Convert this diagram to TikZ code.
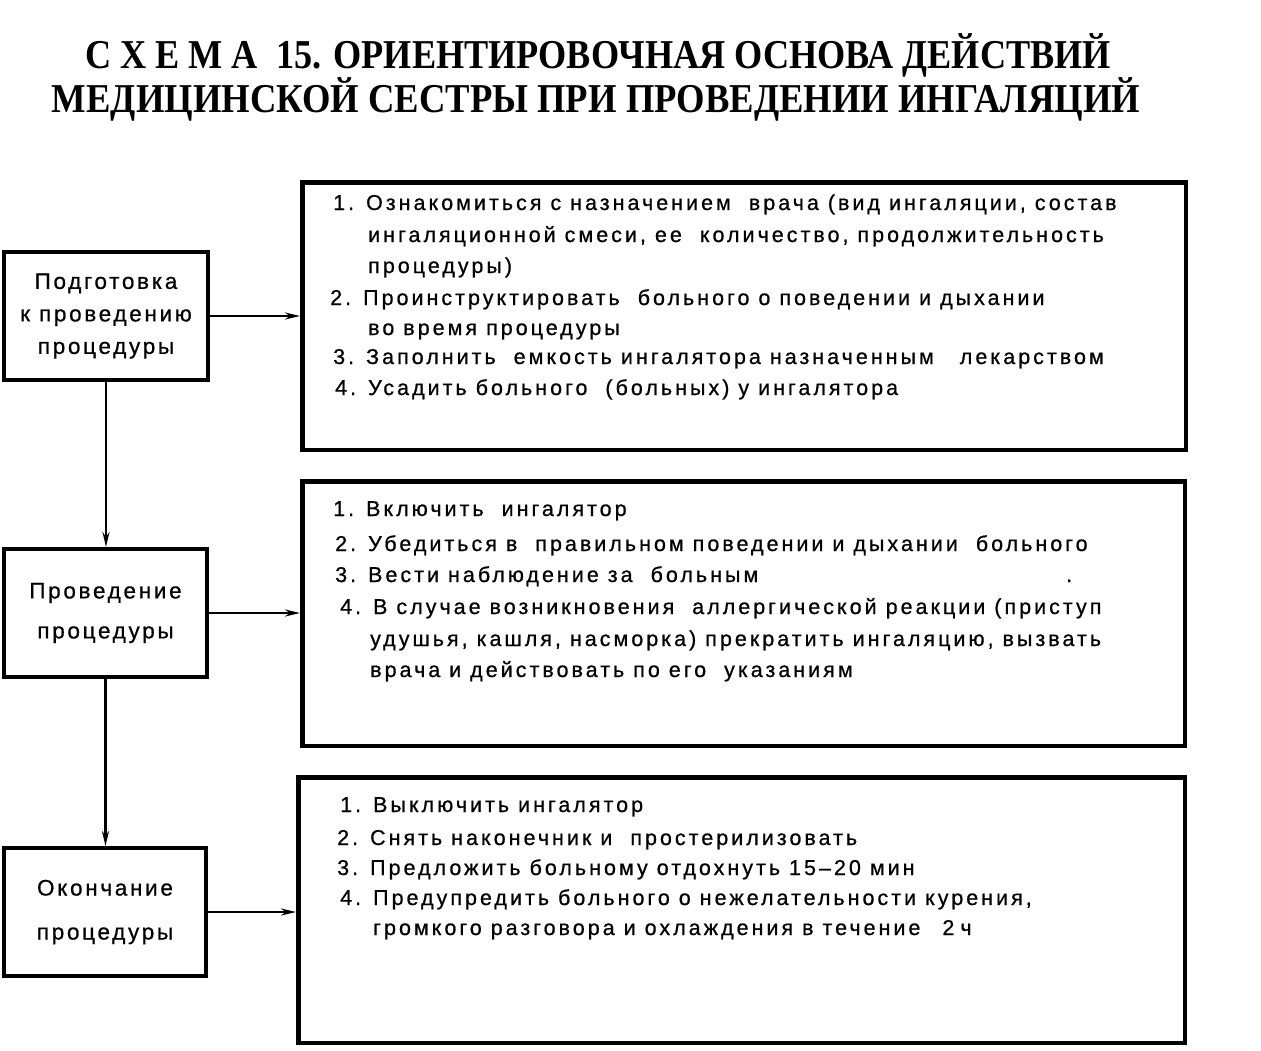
\documentclass[tikz,border=0pt]{standalone}
\usepackage{fontspec}
\usepackage{graphicx}
\usetikzlibrary{arrows.meta}
\newfontfamily\bodyfont{Liberation Sans}[LetterSpace=14,FakeBold=0.7]
\newfontfamily\leftfont{Liberation Sans}[LetterSpace=12,FakeBold=0.7]
\newfontfamily\titlefont{Liberation Serif}[BoldFont={Liberation Serif Bold}]
\tikzset{
  leftbox/.style={draw, line width=4pt, inner sep=0pt, minimum height=128pt, align=center},
  rightbox/.style={draw, line width=4.5pt, inner sep=0pt},
  conn/.style={line width=2.7pt, -{Stealth[length=15pt,width=7pt]}},
  item/.style={anchor=base west, inner sep=0pt, font=\bodyfont\fontsize{21.5}{23}\selectfont},
  ttl/.style={anchor=base, inner sep=0pt}
}
\begin{document}
\begin{tikzpicture}[x=1pt,y=-1pt]
\useasboundingbox[fill=white] (0,0) rectangle (1261,1050);

% title
\node[ttl] (title1) at (598,68) {\resizebox{1026pt}{\height}{\titlefont\bfseries\fontsize{41}{44}\selectfont С Х Е М А\ \ 15. ОРИЕНТИРОВОЧНАЯ ОСНОВА ДЕЙСТВИЙ}};
\node[ttl] (title2) at (596,112) {\resizebox{1088pt}{\height}{\titlefont\bfseries\fontsize{41}{44}\selectfont МЕДИЦИНСКОЙ СЕСТРЫ ПРИ ПРОВЕДЕНИИ ИНГАЛЯЦИЙ}};

% left boxes
\node[leftbox, minimum width=204pt, font=\leftfont\fontsize{22.5}{32.5}\selectfont] (lb1) at (106,316) {Подготовка\\к проведению\\процедуры};
\node[leftbox, minimum width=203pt, font=\leftfont\fontsize{22.5}{40}\selectfont] (lb2) at (105.5,613) {Проведение\\процедуры};
\node[leftbox, minimum width=202pt, font=\leftfont\fontsize{22.5}{44}\selectfont] (lb3) at (105,912) {Окончание\\процедуры};

% right boxes
\node[rightbox, minimum width=883.5pt, minimum height=267.5pt] (rb1) at (744,316) {};
\node[rightbox, minimum width=882.5pt, minimum height=264.5pt] (rb2) at (743.5,613.5) {};
\node[rightbox, minimum width=886.5pt, minimum height=265.5pt] (rb3) at (741.5,910) {};

% connectors
\draw[conn] (lb1.south) -- (lb1.south |- lb2.north);
\draw[conn] (lb2.south) -- (lb2.south |- lb3.north);
\draw[conn] (lb1.east) -- (lb1.east -| rb1.west);
\draw[conn] (lb2.east) -- (lb2.east -| rb2.west);
\draw[conn] (lb3.east) -- (lb3.east -| rb3.west);

% texts of box 1
\node[item] (a1) at (333,210) {1. Ознакомиться с назначением\ \ врача (вид ингаляции, состав};
\node[item] (a2) at (368,242) {ингаляционной смеси, ее\ \ количество, продолжительность};
\node[item] (a3) at (368,273) {процедуры)};
\node[item] (a4) at (330,305) {2. Проинструктировать\ \ больного о поведении и дыхании};
\node[item] (a5) at (368,335) {во время процедуры};
\node[item] (a6) at (333,364) {3. Заполнить\ \ емкость ингалятора назначенным\hspace{26pt}лекарством};
\node[item] (a7) at (335,395) {4. Усадить больного\ \ (больных) у ингалятора};

% texts of box 2
\node[item] (b1) at (333,516) {1. Включить\ \ ингалятор};
\node[item] (b2) at (335,551) {2. Убедиться в\ \ правильном поведении и дыхании\ \ больного};
\node[item] (b3) at (335,582) {3. Вести наблюдение за\ \ больным};
\node[item] (b3dot) at (1066,582) {.};
\node[item] (b4) at (340,614) {4. В случае возникновения\ \ аллергической реакции (приступ};
\node[item] (b5) at (370,646) {удушья, кашля, насморка) прекратить ингаляцию, вызвать};
\node[item] (b6) at (370,677) {врача и действовать по его\ \ указаниям};

% texts of box 3
\node[item] (c1) at (340,812) {1. Выключить ингалятор};
\node[item] (c2) at (337,845) {2. Снять наконечник и\ \ простерилизовать};
\node[item] (c3) at (337,875) {3. Предложить больному отдохнуть\ 15–20\ мин};
\node[item] (c4) at (340,905) {4. Предупредить больного о нежелательности\ курения,};
\node[item] (c5) at (373,935) {громкого разговора и охлаждения в течение\hspace{22pt}2\hspace{6pt}ч};
\end{tikzpicture}
\end{document}
